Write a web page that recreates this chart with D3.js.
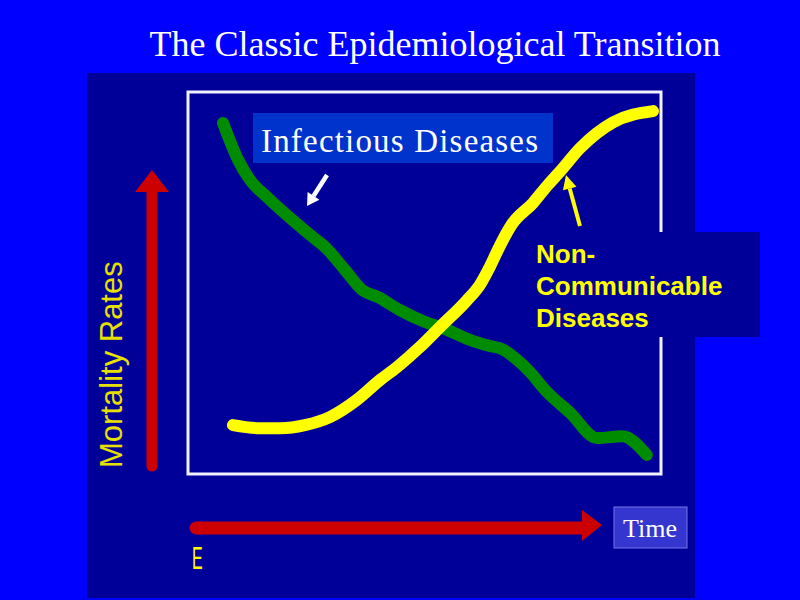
<!DOCTYPE html>
<html><head><meta charset="utf-8">
<script src="https://cdn.jsdelivr.net/npm/d3@7"></script>
<style>html,body{margin:0;padding:0;background:#0000ff;}svg{display:block}</style>
</head><body>
<script>
const title = "The Classic Epidemiological Transition";
const yAxisLabel = "Mortality Rates";
const xAxisLabel = "Time";
const seriesNames = ["Infectious Diseases", "Non-Communicable Diseases"];
const ncdLabelLines = ["Non-", "Communicable", "Diseases"];
// Infectious diseases (time, mortality index 0-100)
const infTime = [7.4,10.6,13.1,16.7,21.6,26.4,29.0,33.2,36.8,40.2,44.8,50.1,53.9,59.6,63.8,66.4,69.1,72.3,75.5,80.8,86.5,91.8,97.0];
const infRate = [91.9,82.2,77.0,72.5,67.0,62.0,59.4,53.4,48.2,46.3,42.9,39.8,38.2,35.1,33.5,32.7,30.4,26.7,22.0,16.0,9.4,9.9,5.0];
// Non-communicable diseases
const ncdTime = [9.5,15.2,19.5,24.7,30.0,35.7,40.6,44.2,49.0,53.3,59.0,61.7,63.8,66.0,68.5,72.9,76.1,78.6,82.9,89.9,98.3];
const ncdRate = [12.8,12.0,12.0,12.8,14.9,19.4,24.6,28.0,33.2,38.5,45.5,49.5,54.2,59.9,65.4,70.9,75.7,79.1,85.3,92.1,95.0];

const W = 800, H = 600;
const svg = d3.select("body").append("svg").attr("width", W).attr("height", H);
svg.append("rect").attr("width", W).attr("height", H).attr("fill", "#0000ff");

const frame = {x0: 188, x1: 661, y0: 92, y1: 474};
const x = d3.scaleLinear().domain([0, 100]).range([frame.x0, frame.x1]);
const y = d3.scaleLinear().domain([0, 100]).range([frame.y1, frame.y0]);

// dark panel
svg.append("rect").attr("x", 87).attr("y", 73).attr("width", 608).attr("height", 525).attr("fill", "#000099");

// title
svg.append("text").attr("x", 435).attr("y", 56).attr("text-anchor", "middle")
  .attr("font-family", "Liberation Serif, Times New Roman, serif").attr("font-size", 36)
  .attr("fill", "#ffffff").text(title);

// frame
svg.append("rect").attr("x", frame.x0).attr("y", frame.y0)
  .attr("width", frame.x1 - frame.x0).attr("height", frame.y1 - frame.y0)
  .attr("fill", "none").attr("stroke", "#f0f0ff").attr("stroke-width", 3);

const line = d3.line().x(d => x(d[0])).y(d => y(d[1])).curve(d3.curveMonotoneX);
const infData = infTime.map((t, i) => [t, infRate[i]]);
const ncdData = ncdTime.map((t, i) => [t, ncdRate[i]]);

svg.append("path").attr("d", line(infData)).attr("fill", "none").attr("stroke", "#008c00")
  .attr("stroke-width", 12).attr("stroke-linecap", "round").attr("stroke-linejoin", "round");
svg.append("path").attr("d", line(ncdData)).attr("fill", "none").attr("stroke", "#ffff00")
  .attr("stroke-width", 12).attr("stroke-linecap", "round").attr("stroke-linejoin", "round");

// Infectious Diseases label
svg.append("rect").attr("x", 253).attr("y", 113).attr("width", 300).attr("height", 50).attr("fill", "#0033cc");
svg.append("text").attr("x", 261).attr("y", 152)
  .attr("font-family", "Liberation Serif, Times New Roman, serif").attr("font-size", 33)
  .attr("textLength", 277).attr("fill", "#ffffff").text(seriesNames[0]);

// arrow helper
function arrow(x1, y1, x2, y2, color, w, headLen, headW) {
  const a = Math.atan2(y2 - y1, x2 - x1);
  const bx = x2 - headLen * Math.cos(a), by = y2 - headLen * Math.sin(a);
  svg.append("line").attr("x1", x1).attr("y1", y1).attr("x2", bx).attr("y2", by)
    .attr("stroke", color).attr("stroke-width", w);
  const px = -Math.sin(a), py = Math.cos(a);
  svg.append("polygon").attr("points", [
    [x2, y2], [bx + px * headW, by + py * headW], [bx - px * headW, by - py * headW]
  ].map(p => p.join(",")).join(" ")).attr("fill", color);
}
arrow(327, 175, 307, 206, "#ffffff", 4.5, 12, 7);
arrow(580, 226, 566, 175, "#ffff00", 4, 14, 7);

// NCD label box
svg.append("rect").attr("x", 533).attr("y", 232).attr("width", 227).attr("height", 105).attr("fill", "#000099");
ncdLabelLines.forEach((t, i) => {
  svg.append("text").attr("x", 536).attr("y", 263 + i * 32)
    .attr("font-family", "Liberation Sans, Arial, sans-serif").attr("font-weight", "bold")
    .attr("font-size", 26).attr("fill", "#ffff00").text(t);
});

// Y axis red arrow
svg.append("line").attr("x1", 152).attr("y1", 466).attr("x2", 152).attr("y2", 190)
  .attr("stroke", "#cc0000").attr("stroke-width", 11).attr("stroke-linecap", "round");
svg.append("polygon").attr("points", "152,170 135,192 169,192").attr("fill", "#cc0000");

// X axis red arrow
svg.append("line").attr("x1", 196).attr("y1", 528).attr("x2", 584).attr("y2", 528)
  .attr("stroke", "#cc0000").attr("stroke-width", 13).attr("stroke-linecap", "round");
svg.append("polygon").attr("points", "602,525 582,510 582,541").attr("fill", "#cc0000");

// Y label
svg.append("text").attr("transform", "translate(122,468) rotate(-90)")
  .attr("font-family", "Liberation Sans, Arial, sans-serif").attr("font-size", 31)
  .attr("fill", "#e8e000").text(yAxisLabel);

// Time label
svg.append("rect").attr("x", 614).attr("y", 507).attr("width", 73).attr("height", 41)
  .attr("fill", "#3535d0").attr("stroke", "#7777e6").attr("stroke-width", 1);
svg.append("text").attr("x", 650).attr("y", 537).attr("text-anchor", "middle")
  .attr("font-family", "Liberation Serif, Times New Roman, serif").attr("font-size", 26)
  .attr("fill", "#ffffff").text(xAxisLabel);

// clipped yellow fragment
svg.append("text").attr("transform", "translate(192,569) scale(0.55,1.1)")
  .attr("font-family", "Liberation Sans, Arial, sans-serif").attr("font-size", 29)
  .attr("fill", "#ffff00").text("E");
</script>
</body></html>
